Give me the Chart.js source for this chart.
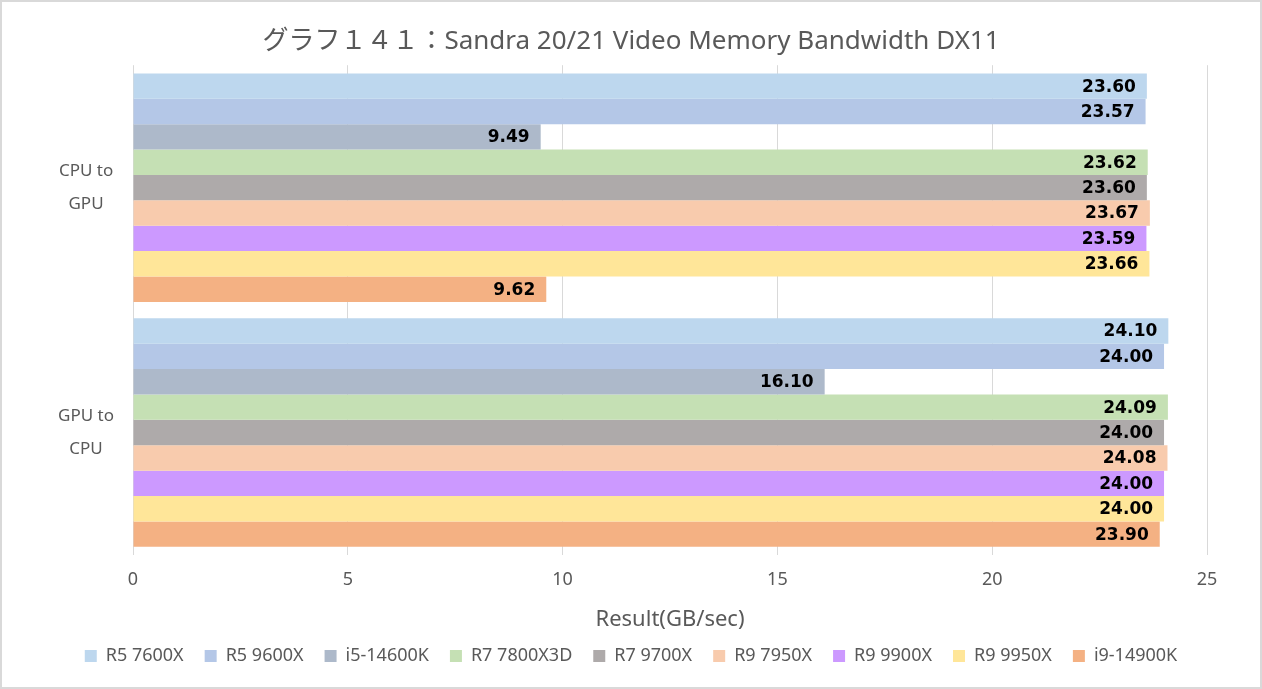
<!DOCTYPE html>
<html>
<head>
<meta charset="utf-8">
<script src="https://cdn.jsdelivr.net/npm/chart.js@4/dist/chart.umd.min.js"></script>
<style>
  html, body { margin: 0; padding: 0; background: #fff; }
  #wrap { width: 1262px; height: 689px; box-sizing: border-box; border: 2px solid #d9d9d9; position: relative; }
  #chart { display: block; }
</style>
</head>
<body>
<div id="wrap"><canvas id="chart" width="1258" height="685"></canvas></div>
<script>
// categories and series
const categories = [['CPU to', 'GPU'], ['GPU to', 'CPU']];
const seriesNames = ['R5 7600X', 'R5 9600X', 'i5-14600K', 'R7 7800X3D', 'R7 9700X', 'R9 7950X', 'R9 9900X', 'R9 9950X', 'i9-14900K'];
const seriesColors = ['#BDD7EE', '#B4C7E7', '#ADB9CA', '#C5E0B4', '#AEAAAA', '#F8CBAD', '#CC99FF', '#FFE699', '#F4B183'];

const r5_7600x = [23.60, 24.10];
const r5_9600x = [23.57, 24.00];
const i5_14600k = [9.49, 16.10];
const r7_7800x3d = [23.62, 24.09];
const r7_9700x = [23.60, 24.00];
const r9_7950x = [23.67, 24.08];
const r9_9900x = [23.59, 24.00];
const r9_9950x = [23.66, 24.00];
const i9_14900k = [9.62, 23.90];

const seriesValues = [r5_7600x, r5_9600x, i5_14600k, r7_7800x3d, r7_9700x, r9_7950x, r9_9900x, r9_9950x, i9_14900k];
const xTicks = [0, 5, 10, 15, 20, 25];

const textGray = '#595959';
const fontFamily = '"Noto Sans", "Noto Sans CJK JP", sans-serif';

// value labels at the inner end of each bar
const barLabels = {
    id: 'barLabels',
    afterDatasetsDraw(chart) {
        const ctx = chart.ctx;
        ctx.save();
        ctx.font = 'bold 17px "DejaVu Sans", sans-serif';
        ctx.fillStyle = '#000';
        ctx.textAlign = 'right';
        ctx.textBaseline = 'middle';
        chart.data.datasets.forEach((ds, i) => {
            chart.getDatasetMeta(i).data.forEach((bar, j) => {
                ctx.fillText(ds.data[j].toFixed(2), bar.x - 11, bar.y + 1);
            });
        });
        ctx.restore();
    }
};

new Chart(document.getElementById('chart').getContext('2d'), {
    type: 'bar',
    data: {
        labels: categories,
        datasets: seriesNames.map((name, i) => ({
            label: name,
            data: seriesValues[i],
            backgroundColor: seriesColors[i],
            barPercentage: 1.0,
            categoryPercentage: 0.933
        }))
    },
    options: {
        indexAxis: 'y',
        responsive: false,
        animation: false,
        layout: { padding: { left: 53, right: 53, top: 0, bottom: 12 } },
        plugins: {
            title: {
                display: true,
                text: 'グラフ１４１：Sandra 20/21 Video Memory Bandwidth DX11',
                color: textGray,
                font: { family: fontFamily, size: 26, weight: 'normal' },
                padding: { top: 24, bottom: 8 }
            },
            legend: {
                position: 'bottom',
                labels: {
                    color: textGray,
                    font: { family: fontFamily, size: 18 },
                    boxWidth: 12,
                    boxHeight: 12,
                    padding: 21
                }
            },
            tooltip: { enabled: false }
        },
        scales: {
            x: {
                min: 0,
                max: 25,
                afterBuildTicks(scale) {
                    scale.ticks = xTicks.map(v => ({ value: v }));
                },
                afterFit(scale) { scale.height = 71; },
                grid: { color: '#d9d9d9', lineWidth: 1, drawTicks: false },
                border: { display: false },
                ticks: {
                    color: textGray,
                    font: { family: fontFamily, size: 18 },
                    padding: 14
                },
                title: {
                    display: true,
                    text: 'Result(GB/sec)',
                    color: textGray,
                    font: { family: fontFamily, size: 22 },
                    padding: { top: 0, bottom: -7 }
                }
            },
            y: {
                grid: { display: false },
                border: { display: false },
                afterFit(scale) { scale.width = 78; },
                ticks: {
                    color: textGray,
                    font: { family: fontFamily, size: 17, lineHeight: 1.94 },
                    crossAlign: 'center',
                    padding: 11
                }
            }
        }
    },
    plugins: [barLabels]
});
</script>
</body>
</html>
